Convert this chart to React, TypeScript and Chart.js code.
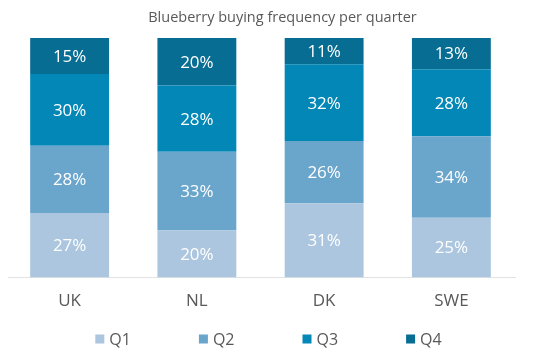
import React, { useEffect, useRef } from "react";
import { Chart, registerables } from "chart.js";

Chart.register(...registerables);

const categories = ["UK", "NL", "DK", "SWE"];
const seriesNames = ["Q1", "Q2", "Q3", "Q4"];
const q1 = [27, 20, 31, 25];
const q2 = [28, 33, 26, 34];
const q3 = [30, 28, 32, 28];
const q4 = [15, 20, 11, 13];
const colors = ["#abc6de", "#6aa5cc", "#0387b6", "#086d92"];
const titleText = "Blueberry buying frequency per quarter";

const FONT = "'Open Sans', 'DejaVu Sans', sans-serif";

export default function App() {
  const ref = useRef<HTMLCanvasElement | null>(null);

  useEffect(() => {
    if (!ref.current) return;
    const raw = [q1, q2, q3, q4];
    const totals = categories.map((_, i) => raw.reduce((s, arr) => s + arr[i], 0));

    const labelPlugin = {
      id: "segLabels",
      afterDatasetsDraw(chart: any) {
        const ctx = chart.ctx;
        ctx.save();
        ctx.fillStyle = "#ffffff";
        ctx.font = `17px ${FONT}`;
        ctx.textAlign = "center";
        ctx.textBaseline = "middle";
        chart.data.datasets.forEach((ds: any, di: number) => {
          const meta = chart.getDatasetMeta(di);
          meta.data.forEach((bar: any, i: number) => {
            const y = (bar.y + bar.base) / 2;
            ctx.fillText(`${ds.raw[i]}%`, bar.x, y + 1);
          });
        });
        ctx.restore();
      },
    };

    const titlePlugin = {
      id: "offsetTitle",
      afterDraw(chart: any) {
        const ctx = chart.ctx;
        const area = chart.chartArea;
        ctx.save();
        ctx.fillStyle = "#595959";
        ctx.font = `14.5px ${FONT}`;
        ctx.textAlign = "center";
        ctx.textBaseline = "middle";
        ctx.fillText(titleText, (area.left + area.right) / 2 + 22, 18);
        ctx.restore();
      },
    };

    const legendPlugin = {
      id: "customLegend",
      afterDraw(chart: any) {
        const ctx = chart.ctx;
        const box = 9;
        const gapText = 5;
        const gapItem = 68;
        ctx.save();
        ctx.font = `16px ${FONT}`;
        ctx.textBaseline = "middle";
        ctx.textAlign = "left";
        const items = chart.data.datasets.map((ds: any) => ({
          text: ds.label,
          color: ds.backgroundColor,
          w: box + gapText + ctx.measureText(ds.label).width,
        }));
        const total = items.reduce((s: number, it: any) => s + it.w, 0) + gapItem * (items.length - 1);
        let x = (chart.width - total) / 2;
        const y = chart.height - 18;
        items.forEach((it: any) => {
          ctx.fillStyle = it.color;
          ctx.fillRect(x, y - box / 2, box, box);
          ctx.fillStyle = "#595959";
          ctx.fillText(it.text, x + box + gapText, y + 1);
          x += it.w + gapItem;
        });
        ctx.restore();
      },
    };

    const chart = new Chart(ref.current, {
      type: "bar",
      data: {
        labels: categories,
        datasets: raw.map((arr, k) => ({
          label: seriesNames[k],
          raw: arr,
          data: arr.map((v, i) => (v / totals[i]) * 100),
          backgroundColor: colors[k],
          borderWidth: 0,
          barPercentage: 0.62,
          categoryPercentage: 1,
        })) as any,
      },
      options: {
        animation: false,
        responsive: false,
        maintainAspectRatio: false,
        layout: { padding: { left: 6, right: 22, top: 38, bottom: 33 } },
        plugins: {
          legend: { display: false },
          tooltip: { enabled: false },
          title: { display: false },
        },
        scales: {
          x: {
            stacked: true,
            grid: { display: false, drawTicks: false },
            border: { display: true, color: "#e3e3e3", width: 1 },
            ticks: { color: "#595959", font: { family: FONT, size: 17 }, padding: 13 },
          },
          y: {
            stacked: true,
            display: false,
            min: 0,
            max: 100,
          },
        },
      },
      plugins: [labelPlugin, titlePlugin, legendPlugin],
    });
    return () => chart.destroy();
  }, []);

  return (
    <div style={{ margin: -8, width: 537, height: 357 }}>
      <canvas ref={ref} width={537} height={357} style={{ display: "block", width: 537, height: 357 }} />
    </div>
  );
}
